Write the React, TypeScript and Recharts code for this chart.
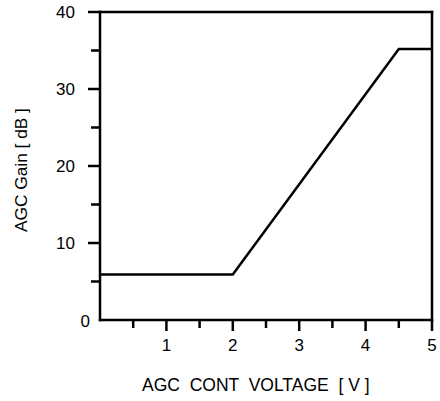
import React from 'react';
import { LineChart, Line, XAxis, YAxis, ReferenceLine } from 'recharts';

const voltage = [0, 2, 4.5, 5];
const gain = [5.9, 5.9, 35.2, 35.2];
const xTicks = [0.5, 1, 1.5, 2, 2.5, 3, 3.5, 4, 4.5, 5];
const xLabels = [1, 2, 3, 4, 5];
const yTicks = [0, 5, 10, 15, 20, 25, 30, 35, 40];
const yLabels = [0, 10, 20, 30, 40];
const xTitle = 'AGC  CONT  VOLTAGE  [ V ]';
const yTitle = 'AGC Gain [ dB ]';

const data = voltage.map((v, i) => ({ v, g: gain[i] }));
const font = '"Liberation Sans", Arial, sans-serif';
const SW = 2.5;
const FS = 17;

function XTick(props: any) {
  const { x, y, payload } = props;
  const v = payload.value;
  const major = xLabels.includes(v);
  return (
    <g>
      <line x1={x} x2={x} y1={y} y2={y + (major ? 11 : 8)} stroke="#000" strokeWidth={SW} />
      {major && (
        <text x={x} y={y + 30.5} textAnchor="middle" fontSize={FS} fontFamily={font} fill="#000">
          {v}
        </text>
      )}
    </g>
  );
}

function YTick(props: any) {
  const { x, y, payload } = props;
  const v = payload.value;
  const major = yLabels.includes(v);
  if (v === 0) {
    return (
      <text x={x - 10} y={y + 6.5} textAnchor="end" fontSize={FS} fontFamily={font} fill="#000">
        {v}
      </text>
    );
  }
  return (
    <g>
      <line x1={x - (major ? 12 : 9)} x2={x} y1={y} y2={y} stroke="#000" strokeWidth={SW} />
      {major && (
        <text x={x - 25} y={y + 5.5} textAnchor="end" fontSize={FS} fontFamily={font} fill="#000">
          {v}
        </text>
      )}
    </g>
  );
}

export default function App() {
  return (
    <div style={{ position: 'absolute', left: 0, top: 0, background: '#fff' }}>
      <LineChart width={440} height={401} data={data} margin={{ top: 12, right: 8, left: 0, bottom: 0 }}>
        <XAxis
          dataKey="v"
          type="number"
          domain={[0, 5]}
          ticks={xTicks}
          interval={0}
          height={81}
          tickSize={0}
          tickMargin={0}
          tickLine={false}
          axisLine={{ stroke: '#000', strokeWidth: SW, strokeLinecap: 'square' } as any}
          tick={XTick}
          label={{
            content: () => (
              <text x={142} y={391} textAnchor="start" fontSize={17.5} fontFamily={font} fill="#000" style={{ whiteSpace: 'pre' }}>
                {xTitle}
              </text>
            ),
          } as any}
        />
        <YAxis
          type="number"
          domain={[0, 40]}
          ticks={yTicks}
          interval={0}
          width={100}
          tickSize={0}
          tickMargin={0}
          tickLine={false}
          axisLine={{ stroke: '#000', strokeWidth: SW, strokeLinecap: 'square' } as any}
          tick={YTick}
          label={{
            content: () => (
              <text x={26.5} y={232} transform="rotate(-90 26.5 232)" textAnchor="start" fontSize={17.3} fontFamily={font} fill="#000">
                {yTitle}
              </text>
            ),
          } as any}
        />
        <ReferenceLine y={40} stroke="#000" strokeWidth={SW} strokeLinecap="square" />
        <ReferenceLine x={5} stroke="#000" strokeWidth={SW} strokeLinecap="square" />
        <Line
          type="linear"
          dataKey="g"
          stroke="#000"
          strokeWidth={SW}
          dot={false}
          isAnimationActive={false}
        />
      </LineChart>
    </div>
  );
}
